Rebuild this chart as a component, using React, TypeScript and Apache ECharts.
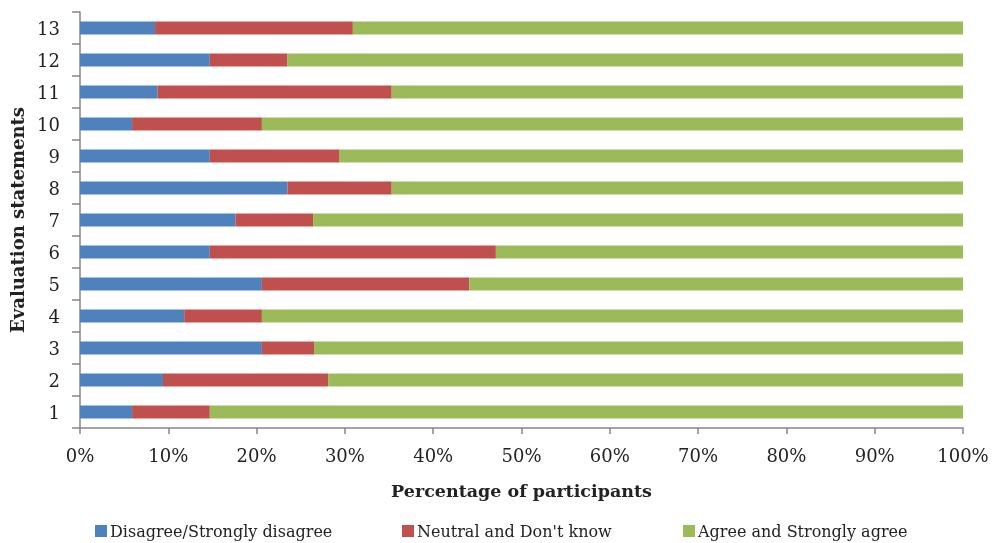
import React, { useEffect, useRef } from "react";
import * as echarts from "echarts";

// Evaluation statements 1..13 (bottom to top)
const statements = ["1", "2", "3", "4", "5", "6", "7", "8", "9", "10", "11", "12", "13"];

// Share of participants per response group, in percent
const disagree = [5.9, 9.4, 20.6, 11.8, 20.6, 14.7, 17.6, 23.5, 14.7, 5.9, 8.8, 14.7, 8.5];
const neutral = [8.8, 18.7, 5.9, 8.8, 23.5, 32.4, 8.8, 11.8, 14.7, 14.7, 26.5, 8.8, 22.4];
const agree = [85.3, 71.9, 73.5, 79.4, 55.9, 52.9, 73.6, 64.7, 70.6, 79.4, 64.7, 76.5, 69.1];

const seriesNames = [
  "Disagree/Strongly disagree",
  "Neutral and Don't know",
  "Agree and Strongly agree",
];
const seriesColors = ["#4F81BD", "#C0504D", "#9BBB59"];
const xTicks = { min: 0, max: 100, step: 10 };

const FONT = "'DejaVu Serif', serif";

export default function App() {
  const ref = useRef<HTMLDivElement>(null);

  useEffect(() => {
    if (!ref.current) return;
    const chart = echarts.init(ref.current, undefined, { renderer: "svg" });
    const values = [disagree, neutral, agree];
    const legendLefts = [90, 397, 678];

    chart.setOption({
      animation: false,
      textStyle: { fontFamily: FONT },
      grid: {
        left: 80,
        right: 36,
        top: 12,
        bottom: 115,
        containLabel: false,
        outerBoundsMode: "none",
      },
      legend: seriesNames.map((name, i) => ({
        data: [name],
        left: legendLefts[i],
        top: 518,
        icon: "rect",
        itemWidth: 12,
        itemHeight: 12,
        itemGap: 0,
        selectedMode: false,
        textStyle: { fontFamily: FONT, fontSize: 16, color: "#222", padding: [0, 0, 0, -2] },
      })),
      xAxis: {
        type: "value",
        min: xTicks.min,
        max: xTicks.max,
        interval: xTicks.step,
        name: "Percentage of participants",
        nameLocation: "middle",
        nameGap: 54,
        nameTextStyle: { fontFamily: FONT, fontSize: 17.5, fontWeight: "bold", color: "#222" },
        axisLine: { show: true, lineStyle: { color: "#868686", width: 1.5 } },
        axisTick: { show: true, length: 6, lineStyle: { color: "#868686", width: 1.5 } },
        splitLine: { show: false },
        axisLabel: {
          formatter: "{value}%",
          margin: 18,
          fontFamily: FONT,
          fontSize: 18,
          color: "#222",
        },
      },
      yAxis: {
        type: "category",
        data: statements,
        name: "Evaluation statements",
        nameLocation: "middle",
        nameRotate: 90,
        nameGap: 54,
        nameTextStyle: { fontFamily: FONT, fontSize: 18, fontWeight: "bold", color: "#222" },
        axisLine: { show: true, lineStyle: { color: "#868686", width: 1.5 } },
        axisTick: { show: true, length: 8, lineStyle: { color: "#868686", width: 1.5 } },
        splitLine: { show: false },
        axisLabel: { margin: 20, fontFamily: FONT, fontSize: 18, color: "#222" },
      },
      series: seriesNames.map((name, i) => ({
        name,
        type: "bar",
        stack: "total",
        barWidth: 13,
        data: values[i],
        itemStyle: { color: seriesColors[i] },
        emphasis: { disabled: true },
      })),
    });

    return () => chart.dispose();
  }, []);

  return (
    <div
      ref={ref}
      style={{ position: "fixed", left: 0, top: 0, width: 999, height: 543 }}
    />
  );
}
